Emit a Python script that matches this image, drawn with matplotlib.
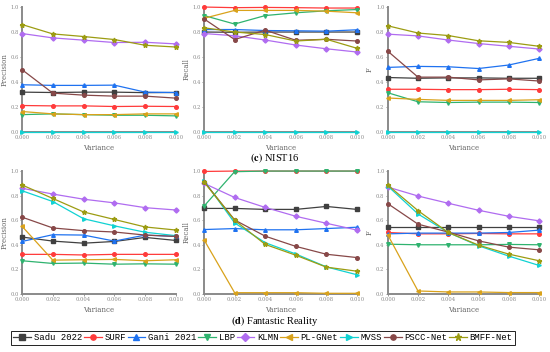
import matplotlib
matplotlib.use("Agg")
import matplotlib.pyplot as plt
from matplotlib.lines import Line2D

plt.rcParams['mathtext.fontset'] = 'stix'

variance = [0.000, 0.002, 0.004, 0.006, 0.008, 0.010]
methods = ["Sadu 2022", "SURF", "Gani 2021", "LBP", "KLMN", "PL-GNet", "MVSS", "PSCC-Net", "BMFF-Net"]
colors = ['#404040', '#ff3b3b', '#1f72f0', '#2fb36f', '#b06cf0', '#d9a21b', '#11d2d2', '#874848', '#9c9c12']
markers = ['s', 'o', '^', 'v', 'D', '<', '>', 'o', '*']

# NIST16
nist_precision = [
    [0.319, 0.316, 0.319, 0.319, 0.315, 0.316],   # Sadu 2022
    [0.212, 0.209, 0.209, 0.204, 0.206, 0.204],   # SURF
    [0.378, 0.373, 0.373, 0.375, 0.319, 0.316],   # Gani 2021
    [0.139, 0.145, 0.139, 0.134, 0.134, 0.129],   # LBP
    [0.788, 0.753, 0.735, 0.716, 0.718, 0.705],   # KLMN
    [0.164, 0.145, 0.139, 0.139, 0.145, 0.145],   # PL-GNet
    [0.0, 0.0, 0.0, 0.0, 0.0, 0.0],               # MVSS
    [0.499, 0.311, 0.295, 0.287, 0.287, 0.271],   # PSCC-Net
    [0.860, 0.785, 0.764, 0.740, 0.694, 0.680],   # BMFF-Net
]
nist_recall = [
    [0.800, 0.798, 0.800, 0.800, 0.800, 0.800],
    [1.000, 0.995, 0.997, 0.995, 0.992, 0.992],
    [0.820, 0.820, 0.812, 0.810, 0.807, 0.818],
    [0.932, 0.864, 0.932, 0.954, 0.970, 0.980],
    [0.788, 0.770, 0.736, 0.696, 0.666, 0.640],
    [0.910, 0.973, 0.973, 0.973, 0.967, 0.954],
    [0.0, 0.0, 0.0, 0.0, 0.0, 0.0],
    [0.905, 0.740, 0.815, 0.734, 0.742, 0.728],
    [0.834, 0.800, 0.780, 0.728, 0.742, 0.670],
]
nist_f = [
    [0.436, 0.430, 0.433, 0.433, 0.430, 0.430],
    [0.342, 0.342, 0.339, 0.339, 0.342, 0.339],
    [0.517, 0.525, 0.522, 0.508, 0.536, 0.589],
    [0.314, 0.242, 0.236, 0.239, 0.239, 0.236],
    [0.783, 0.769, 0.736, 0.708, 0.686, 0.664],
    [0.272, 0.261, 0.253, 0.253, 0.253, 0.258],
    [0.0, 0.0, 0.0, 0.0, 0.0, 0.0],
    [0.647, 0.439, 0.439, 0.417, 0.425, 0.408],
    [0.850, 0.792, 0.772, 0.730, 0.717, 0.686],
]

# Fantastic Reality
fr_precision = [
    [0.463, 0.430, 0.413, 0.427, 0.460, 0.435],
    [0.322, 0.322, 0.317, 0.322, 0.322, 0.322],
    [0.427, 0.482, 0.479, 0.430, 0.479, 0.468],
    [0.270, 0.248, 0.251, 0.242, 0.245, 0.242],
    [0.860, 0.813, 0.771, 0.741, 0.702, 0.683],
    [0.551, 0.275, 0.278, 0.281, 0.270, 0.278],
    [0.840, 0.752, 0.612, 0.554, 0.502, 0.474],
    [0.625, 0.537, 0.515, 0.504, 0.479, 0.468],
    [0.887, 0.777, 0.667, 0.606, 0.545, 0.520],
]
fr_recall = [
    [0.696, 0.696, 0.688, 0.688, 0.712, 0.688],
    [0.997, 1.000, 1.000, 1.000, 1.000, 1.000],
    [0.524, 0.532, 0.522, 0.522, 0.532, 0.543],
    [0.715, 0.995, 1.000, 1.000, 1.000, 1.000],
    [0.900, 0.785, 0.704, 0.632, 0.575, 0.520],
    [0.440, 0.010, 0.010, 0.010, 0.005, 0.005],
    [0.922, 0.578, 0.417, 0.325, 0.220, 0.156],
    [0.914, 0.602, 0.470, 0.387, 0.323, 0.296],
    [0.911, 0.600, 0.403, 0.315, 0.218, 0.185],
]
fr_f = [
    [0.543, 0.543, 0.543, 0.543, 0.543, 0.543],
    [0.500, 0.489, 0.489, 0.492, 0.489, 0.489],
    [0.489, 0.495, 0.495, 0.495, 0.500, 0.519],
    [0.405, 0.400, 0.400, 0.400, 0.403, 0.400],
    [0.870, 0.797, 0.738, 0.681, 0.632, 0.595],
    [0.481, 0.024, 0.016, 0.016, 0.011, 0.011],
    [0.878, 0.651, 0.500, 0.392, 0.308, 0.232],
    [0.735, 0.568, 0.503, 0.432, 0.381, 0.359],
    [0.886, 0.678, 0.500, 0.397, 0.324, 0.270],
]

fig = plt.figure(figsize=(5.5, 3.52), dpi=100)

lefts = [0.040, 0.371, 0.705]
widths = [0.280, 0.278, 0.275]
rows = [(0.625, 0.355), (0.165, 0.349)]
panels = [
    [(nist_precision, "Precision"), (nist_recall, "Recall"), (nist_f, "F")],
    [(fr_precision, "Precision"), (fr_recall, "Recall"), (fr_f, "F")],
]

tick_font = dict(family='DejaVu Serif', size=3.8)

for r, (bottom, height) in enumerate(rows):
    for c in range(3):
        data, ylab = panels[r][c]
        ax = fig.add_axes([lefts[c], bottom, widths[c], height])
        for i, vals in enumerate(data):
            ax.plot(variance, vals, color=colors[i], marker=markers[i],
                    markersize=2.6 if markers[i] != '*' else 3.5,
                    linewidth=0.9, clip_on=False, zorder=3)
        ax.set_xlim(0, 0.010)
        ax.set_ylim(0, 1.0)
        ax.set_xticks(variance)
        ax.set_xticklabels(["%.3f" % v for v in variance], fontdict=tick_font, color='#555555')
        ax.set_yticks([0, 0.2, 0.4, 0.6, 0.8, 1.0])
        ax.set_yticklabels(["%.1f" % v for v in [0, 0.2, 0.4, 0.6, 0.8, 1.0]], fontdict=tick_font, color='#555555')
        ax.tick_params(length=1.2, width=0.6, pad=1.2, colors='#888888')
        for s in ['top', 'right']:
            ax.spines[s].set_visible(False)
        for s in ['left', 'bottom']:
            ax.spines[s].set_color('#8a8a8a')
            ax.spines[s].set_linewidth(1.4)
        ax.set_xlabel("Variance", family='DejaVu Serif', size=5, color='#666666', labelpad=2.5)
        ax.set_ylabel(ylab, family='DejaVu Serif', size=5, color='#666666', labelpad=1.5)

fig.text(0.5, 0.551, r"$\mathbf{(c)}$ NIST16", ha='center', va='center', fontsize=7.5, family='Liberation Serif')
fig.text(0.5, 0.088, r"$\mathbf{(d)}$ Fantastic Reality", ha='center', va='center', fontsize=7.5, family='Liberation Serif')

handles = [Line2D([0], [0], color=colors[i], marker=markers[i], linewidth=0.9,
                  markersize=3.8 if markers[i] != '*' else 5.2) for i in range(len(methods))]
leg = fig.legend(handles, methods, loc='center', bbox_to_anchor=(0.478, 0.04), ncol=9,
                 frameon=True, fancybox=False, edgecolor='#222222', framealpha=1,
                 prop=dict(family='Liberation Mono', size=6.4),
                 handlelength=2.0, handletextpad=0.3, columnspacing=0.2,
                 borderpad=0.3, borderaxespad=0)
leg.get_frame().set_linewidth(0.7)

fig.savefig("out.png", dpi=100)
